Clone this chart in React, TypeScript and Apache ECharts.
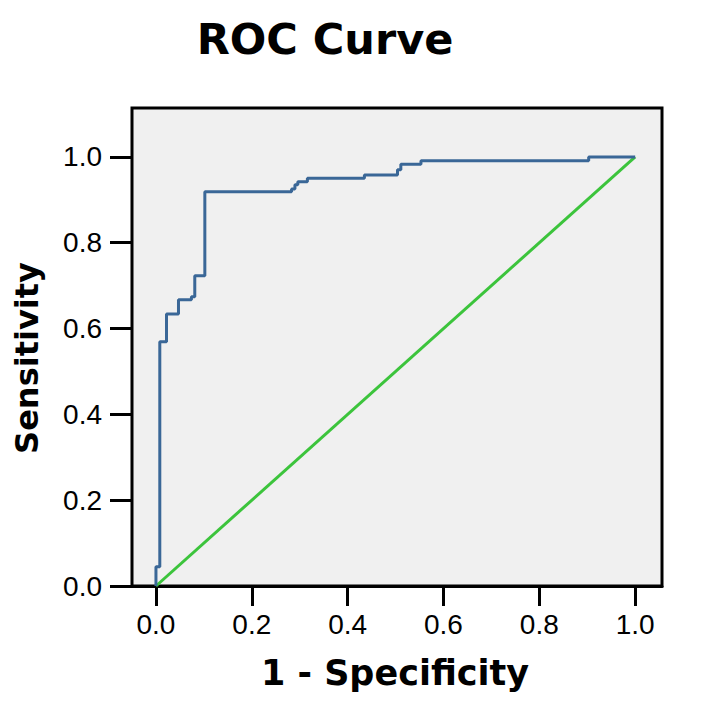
import React, { useEffect, useRef } from "react";
import * as echarts from "echarts";

// ROC curve vertices (1 - specificity, sensitivity), drawn as a step line
const rocFpr = [0, 0, 0.008, 0.022, 0.047, 0.074, 0.081, 0.102, 0.283, 0.29, 0.296, 0.316, 0.435, 0.504, 0.511, 0.553, 0.903, 1.0];
const rocTpr = [0, 0.045, 0.569, 0.634, 0.667, 0.674, 0.723, 0.919, 0.925, 0.935, 0.942, 0.95, 0.958, 0.97, 0.983, 0.991, 1.0, 1.0];

// reference diagonal
const diagX = [0, 1];
const diagY = [0, 1];

const xTicks = [0, 0.2, 0.4, 0.6, 0.8, 1.0];
const yTicks = [0, 0.2, 0.4, 0.6, 0.8, 1.0];

const titleText = "ROC Curve";
const xTitle = "1 - Specificity";
const yTitle = "Sensitivity";

export default function App() {
  const ref = useRef<HTMLDivElement>(null);
  useEffect(() => {
    document.body.style.margin = "0";
    if (!ref.current) return;
    const chart = echarts.init(ref.current, undefined, { renderer: "svg" });
    const labelFont = { fontFamily: "Liberation Sans", fontSize: 28, color: "#000" };
    chart.setOption({
      animation: false,
      backgroundColor: "#fff",
      grid: {
        left: 132,
        top: 108,
        width: 530,
        height: 478,
        show: true,
        backgroundColor: "#f0f0f0",
        borderColor: "#000",
        borderWidth: 3,
      },
      xAxis: {
        type: "value",
        min: -0.05,
        max: 1.056,
        splitLine: { show: false },
        axisLine: { show: true, onZero: false, lineStyle: { color: "#000", width: 3 } },
        axisTick: { show: true, length: 20, lineStyle: { color: "#000", width: 3 }, customValues: xTicks },
        axisLabel: {
          ...labelFont,
          margin: 24,
          customValues: xTicks,
          formatter: (v: number) => v.toFixed(1),
        },
      },
      yAxis: {
        type: "value",
        min: 0,
        max: 1.114,
        splitLine: { show: false },
        axisLine: { show: true, onZero: false, lineStyle: { color: "#000", width: 2 } },
        axisTick: { show: true, length: 22, lineStyle: { color: "#000", width: 3 }, customValues: yTicks },
        axisLabel: {
          ...labelFont,
          margin: 30,
          customValues: yTicks,
          formatter: (v: number) => v.toFixed(1),
        },
      },
      series: [
        {
          type: "line",
          data: diagX.map((x, i) => [x, diagY[i]]),
          showSymbol: false,
          lineStyle: { color: "#3cc43c", width: 3 },
          z: 2,
        },
        {
          type: "line",
          step: "end",
          data: rocFpr.map((x, i) => [x, rocTpr[i]]),
          showSymbol: false,
          lineStyle: { color: "#3a6797", width: 3 },
          z: 3,
        },
      ],
      graphic: [
        {
          type: "text",
          x: 325,
          y: 39,
          style: {
            text: titleText,
            font: 'bold 43px "DejaVu Sans"',
            fill: "#000",
            textAlign: "center",
            textVerticalAlign: "middle",
          },
        },
        {
          type: "text",
          x: 395,
          y: 673,
          style: {
            text: xTitle,
            font: 'bold 35px "DejaVu Sans"',
            fill: "#000",
            textAlign: "center",
            textVerticalAlign: "middle",
          },
        },
        {
          type: "text",
          x: 27,
          y: 358,
          rotation: Math.PI / 2,
          style: {
            text: yTitle,
            font: 'bold 32px "DejaVu Sans"',
            fill: "#000",
            textAlign: "center",
            textVerticalAlign: "middle",
          },
        },
      ],
    });
    return () => chart.dispose();
  }, []);
  return <div ref={ref} style={{ width: 713, height: 716 }} />;
}
